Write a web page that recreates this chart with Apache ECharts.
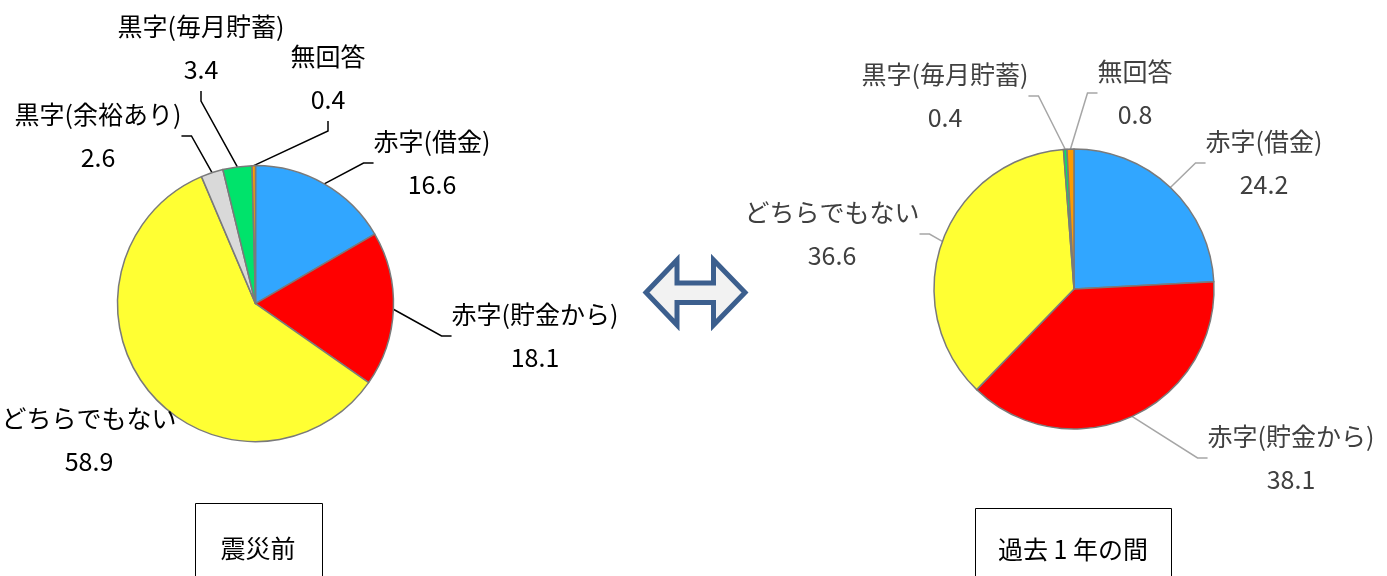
<!DOCTYPE html>
<html><head><meta charset="utf-8">
<script src="https://cdn.jsdelivr.net/npm/echarts@6/dist/echarts.min.js"></script>
<style>html,body{margin:0;padding:0;background:#fff;}#c{width:1387px;height:576px;}</style>
</head><body><div id="c"></div>
<script>
const categories = ['赤字(借金)', '赤字(貯金から)', 'どちらでもない', '黒字(余裕あり)', '黒字(毎月貯蓄)', '無回答'];
const beforeValues = [16.6, 18.1, 58.9, 2.6, 3.4, 0.4];
const pastYearValues = [24.2, 38.1, 36.6, null, 0.4, 0.8];
const sliceColors = ['#31a6ff', '#ff0000', '#ffff33', '#d9d9d9', '#00e36b', '#ff9b00'];
const beforeLeader = [true, true, false, true, true, true];
const pastLeader = [true, true, true, true, true, true];
const panelTitles = ['震災前', '過去 1 年の間'];

// label block centres (layout only)
const beforeLabelPos = [[432,163],[535,336],[89,440],[98,136],[201,48],[328,78]];
const pastLabelPos = [[1264,163],[1291,458],[832,234],[0,0],[945,96],[1135,93]];

const FONT = '"Noto Sans CJK JP", "Noto Sans", sans-serif';

function buildData(values, leader) {
  const out = [];
  values.forEach((v, i) => {
    if (v === null) return;
    out.push({ name: categories[i], value: v, catIndex: i,
      itemStyle: { color: sliceColors[i] },
      labelLine: { show: leader[i] } });
  });
  return out;
}

const beforeData = buildData(beforeValues, beforeLeader);
const pastData = buildData(pastYearValues, pastLeader);

function makeLayout(data, posList) {
  return function (params) {
    const p = posList[data[params.dataIndex].catIndex];
    return { x: p[0], y: p[1], align: 'center', verticalAlign: 'middle' };
  };
}

function pie(data, center, radius, textColor, lineColor, posList) {
  return {
    type: 'pie', center: center, radius: radius, startAngle: 90, clockwise: true,
    avoidLabelOverlap: false, animation: false, silent: true,
    itemStyle: { borderColor: '#7a7a7a', borderWidth: 1.5 },
    label: { show: true, formatter: '{b}\n{c}', fontFamily: FONT, fontSize: 25,
      lineHeight: 43, color: textColor, position: 'outside' },
    labelLine: { show: true, length: 30, length2: 10, smooth: false,
      lineStyle: { color: lineColor, width: 1.5 } },
    labelLayout: makeLayout(data, posList),
    emphasis: { disabled: true },
    data: data
  };
}

const chart = echarts.init(document.getElementById('c'), null, { renderer: 'canvas' });
chart.setOption({
  backgroundColor: '#ffffff',
  animation: false,
  series: [
    pie(beforeData, [255.5, 303.6], 138, '#000000', '#000000', beforeLabelPos),
    pie(pastData, [1074, 289], 140, '#404040', '#a6a6a6', pastLabelPos)
  ],
  graphic: [
    { type: 'polygon', shape: { points: [[646,292.5],[677,260],[677,283],[713.5,283],[713.5,260],[745,292.5],[713.5,325],[713.5,302.5],[677,302.5],[677,325]] },
      style: { fill: '#f2f2f2', stroke: '#3c5f8e', lineWidth: 5, lineJoin: 'miter' } },
    { type: 'rect', shape: { x: 195.5, y: 503.5, width: 127, height: 90 },
      style: { fill: '#ffffff', stroke: '#000000', lineWidth: 1 } },
    { type: 'text', x: 258, y: 548, style: { text: panelTitles[0], font: '25px ' + FONT, fill: '#000', textAlign: 'center', textVerticalAlign: 'middle' } },
    { type: 'rect', shape: { x: 975.5, y: 508.5, width: 196, height: 90 },
      style: { fill: '#ffffff', stroke: '#000000', lineWidth: 1 } },
    { type: 'text', x: 1073, y: 549, style: { text: panelTitles[1], font: '25px ' + FONT, fill: '#000', textAlign: 'center', textVerticalAlign: 'middle' } }
  ]
});
</script>
</body></html>
